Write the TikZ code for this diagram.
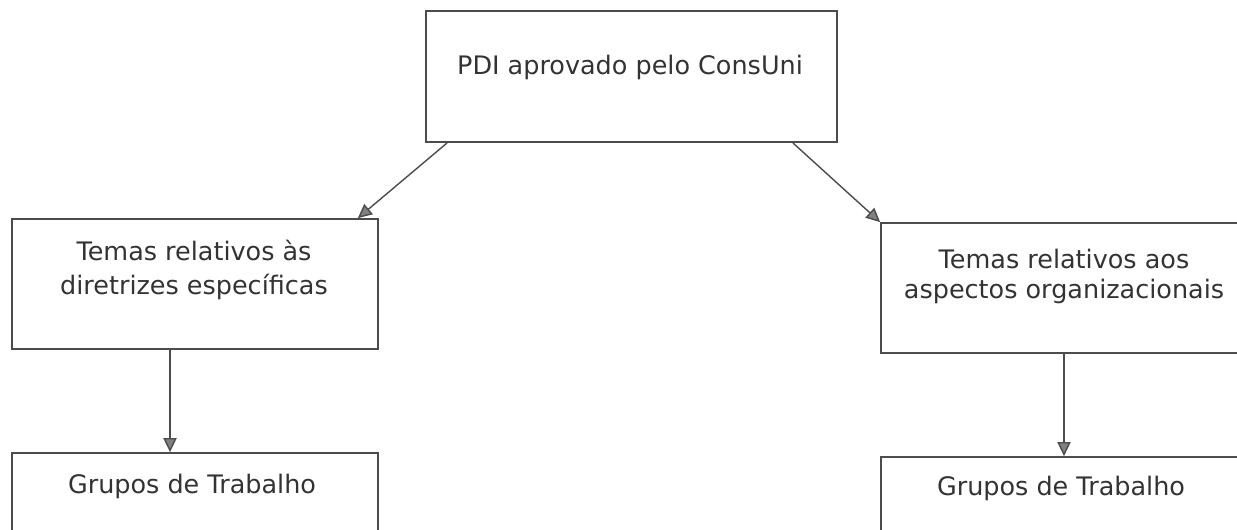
\documentclass[tikz,border=0pt]{standalone}
\usepackage{fontspec}
\setmainfont{DejaVu Sans}
\usetikzlibrary{arrows.meta, positioning}

\begin{document}
\begin{tikzpicture}[
	x=0.02cm, y=-0.02cm,
	every node/.style={inner sep=0pt},
	box/.style={draw=black!70, line width=1pt},
	boxtext/.style={anchor=base, align=center, text=black!80, font=\fontsize{14.5}{20}\selectfont},
	conn/.style={draw=black!70, line width=0.8pt, -{Triangle[length=8pt, width=7.5pt, fill=black!50]}}
	]

	\clip (0,0) rectangle (1237,530);

	% boxes
	\node[box, minimum width=8.22cm, minimum height=2.62cm] (pdi) at (631.5,76.5) {};
	\node[box, minimum width=7.32cm, minimum height=2.6cm] (dir) at (195,284) {};
	\node[box, minimum width=7.52cm, minimum height=2.6cm] (org) at (1069,288) {};
	\node[box, minimum width=7.32cm, minimum height=2.6cm] (gtl) at (195,518) {};
	\node[box, minimum width=7.52cm, minimum height=2.6cm] (gtr) at (1069,522) {};

	% texts (base = last line)
	\node[boxtext] (pdi-t) at (630,75) {PDI aprovado pelo ConsUni};
	\node[boxtext, font=\fontsize{14.5}{19.9}\selectfont] (dir-t) at (194,295) {Temas relativos às\\ diretrizes específicas};
	\node[boxtext, font=\fontsize{14.5}{17}\selectfont] (org-t) at (1064,298) {Temas relativos aos\\ aspectos organizacionais};
	\node[boxtext] (gtl-t) at (192,493) {Grupos de Trabalho};
	\node[boxtext] (gtr-t) at (1061,495) {Grupos de Trabalho};

	% arrows
	\draw[conn] ([xshift=0.44cm]pdi.south west) -- ([xshift=-0.42cm]dir.north east);
	\draw[conn] ([xshift=-0.9cm]pdi.south east) -- (org.north west);
	\draw[conn] ([xshift=-0.5cm]dir.south) -- ([xshift=-0.5cm]gtl.north);
	\draw[conn] ([xshift=-0.1cm]org.south) -- ([xshift=-0.1cm]gtr.north);

\end{tikzpicture}
\end{document}
